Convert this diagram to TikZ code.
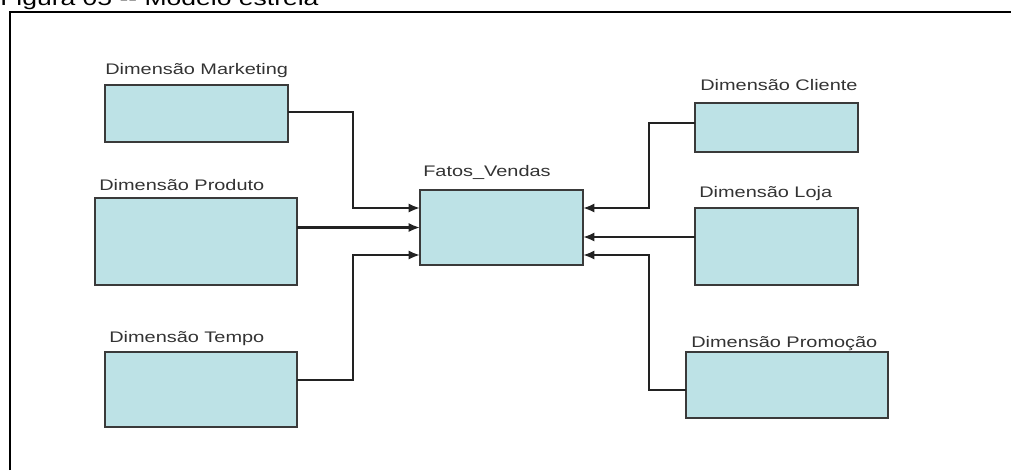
\documentclass[tikz,border=0pt]{standalone}
\usepackage{fontspec}
\setmainfont{Liberation Sans}
\newfontfamily\figfont[FakeStretch=1.3]{Liberation Sans}
\usepackage{xcolor}
\definecolor{dimfill}{HTML}{BDE2E6}
\definecolor{dimline}{HTML}{3A3A3A}
\definecolor{linkcol}{HTML}{222222}
\usetikzlibrary{calc,positioning,arrows.meta}

\begin{document}
\begin{tikzpicture}[x=0.025cm,y=-0.025cm,
    dimbox/.style={rectangle,draw=dimline,fill=dimfill,line width=1.3pt,
                   inner sep=0pt,outer sep=0pt},
    lbl/.style={anchor=base west,inner sep=0pt,text=black!80,
                font=\figfont\fontsize{10.9}{12}\selectfont},
    link/.style={draw=linkcol,line width=2pt},
    linkto/.style={link,-{Latex[length=8pt,width=6.5pt]}}]
  \useasboundingbox (0,0) rectangle (1011,470);
  % frame and caption
  \draw[line width=1.4pt] (10,470) -- (10,12) -- (1011,12);
  \node[anchor=base west,inner sep=0pt,font=\figfont\fontsize{14.5}{17}\selectfont]
    (title) at (0,5) {Figura 05 -- Modelo estrela};

  % fact table
  \node[dimbox,minimum width=4.075cm,minimum height=1.875cm] (fv) at (501.5,227.5) {};
  \node[lbl] (fvlbl) at (423,176) {Fatos\_Vendas};

  % dimensions, left
  \node[dimbox,minimum width=4.575cm,minimum height=1.425cm] (mkt) at (196.5,113.5) {};
  \node[lbl] (mktlbl) at (105,74) {Dimensão Marketing};
  \node[dimbox,minimum width=5.05cm,minimum height=2.175cm] (prod) at (196,241.5) {};
  \node[lbl] (prodlbl) at (99,190) {Dimensão Produto};
  \node[dimbox,minimum width=4.8cm,minimum height=1.875cm] (tmp) at (201,389.5) {};
  \node[lbl] (tmplbl) at (109,342) {Dimensão Tempo};

  % dimensions, right
  \node[dimbox,minimum width=4.075cm,minimum height=1.225cm] (cli) at (776.5,127.5) {};
  \node[lbl] (clilbl) at (700,90) {Dimensão Cliente};
  \node[dimbox,minimum width=4.075cm,minimum height=1.925cm] (loja) at (776.5,246.5) {};
  \node[lbl] (lojalbl) at (699,197) {Dimensão Loja};
  \node[dimbox,minimum width=5.05cm,minimum height=1.65cm] (promo) at (787,385) {};
  \node[lbl] (promolbl) at (691,347) {Dimensão Promoção};

  % arrow ends on the fact table and the two buses
  \coordinate (inA) at ($(fv.west)+(0,-19.5)$);
  \coordinate (inB) at ($(fv.west)+(0,0)$);
  \coordinate (inC) at ($(fv.west)+(0,27.5)$);
  \coordinate (inD) at ($(fv.east)+(0,-19.5)$);
  \coordinate (inE) at ($(fv.east)+(0,9.5)$);
  \coordinate (inF) at ($(fv.east)+(0,27.5)$);
  \coordinate (lbus) at (353,0);
  \coordinate (rbus) at (649,0);

  \draw[linkto] ($(mkt.east)+(0,-1.5)$) -| (lbus |- inA) -- (inA);
  \draw[linkto] (prod.east |- inB) -- (inB);
  \draw[linkto] ($(tmp.east)+(0,-9.5)$) -| (lbus |- inC) -- (inC);
  \draw[linkto] ($(cli.west)+(0,-4.5)$) -| (rbus |- inD) -- (inD);
  \draw[linkto] (loja.west |- inE) -- (inE);
  \draw[linkto] ($(promo.west)+(0,5)$) -| (rbus |- inF) -- (inF);
\end{tikzpicture}
\end{document}
